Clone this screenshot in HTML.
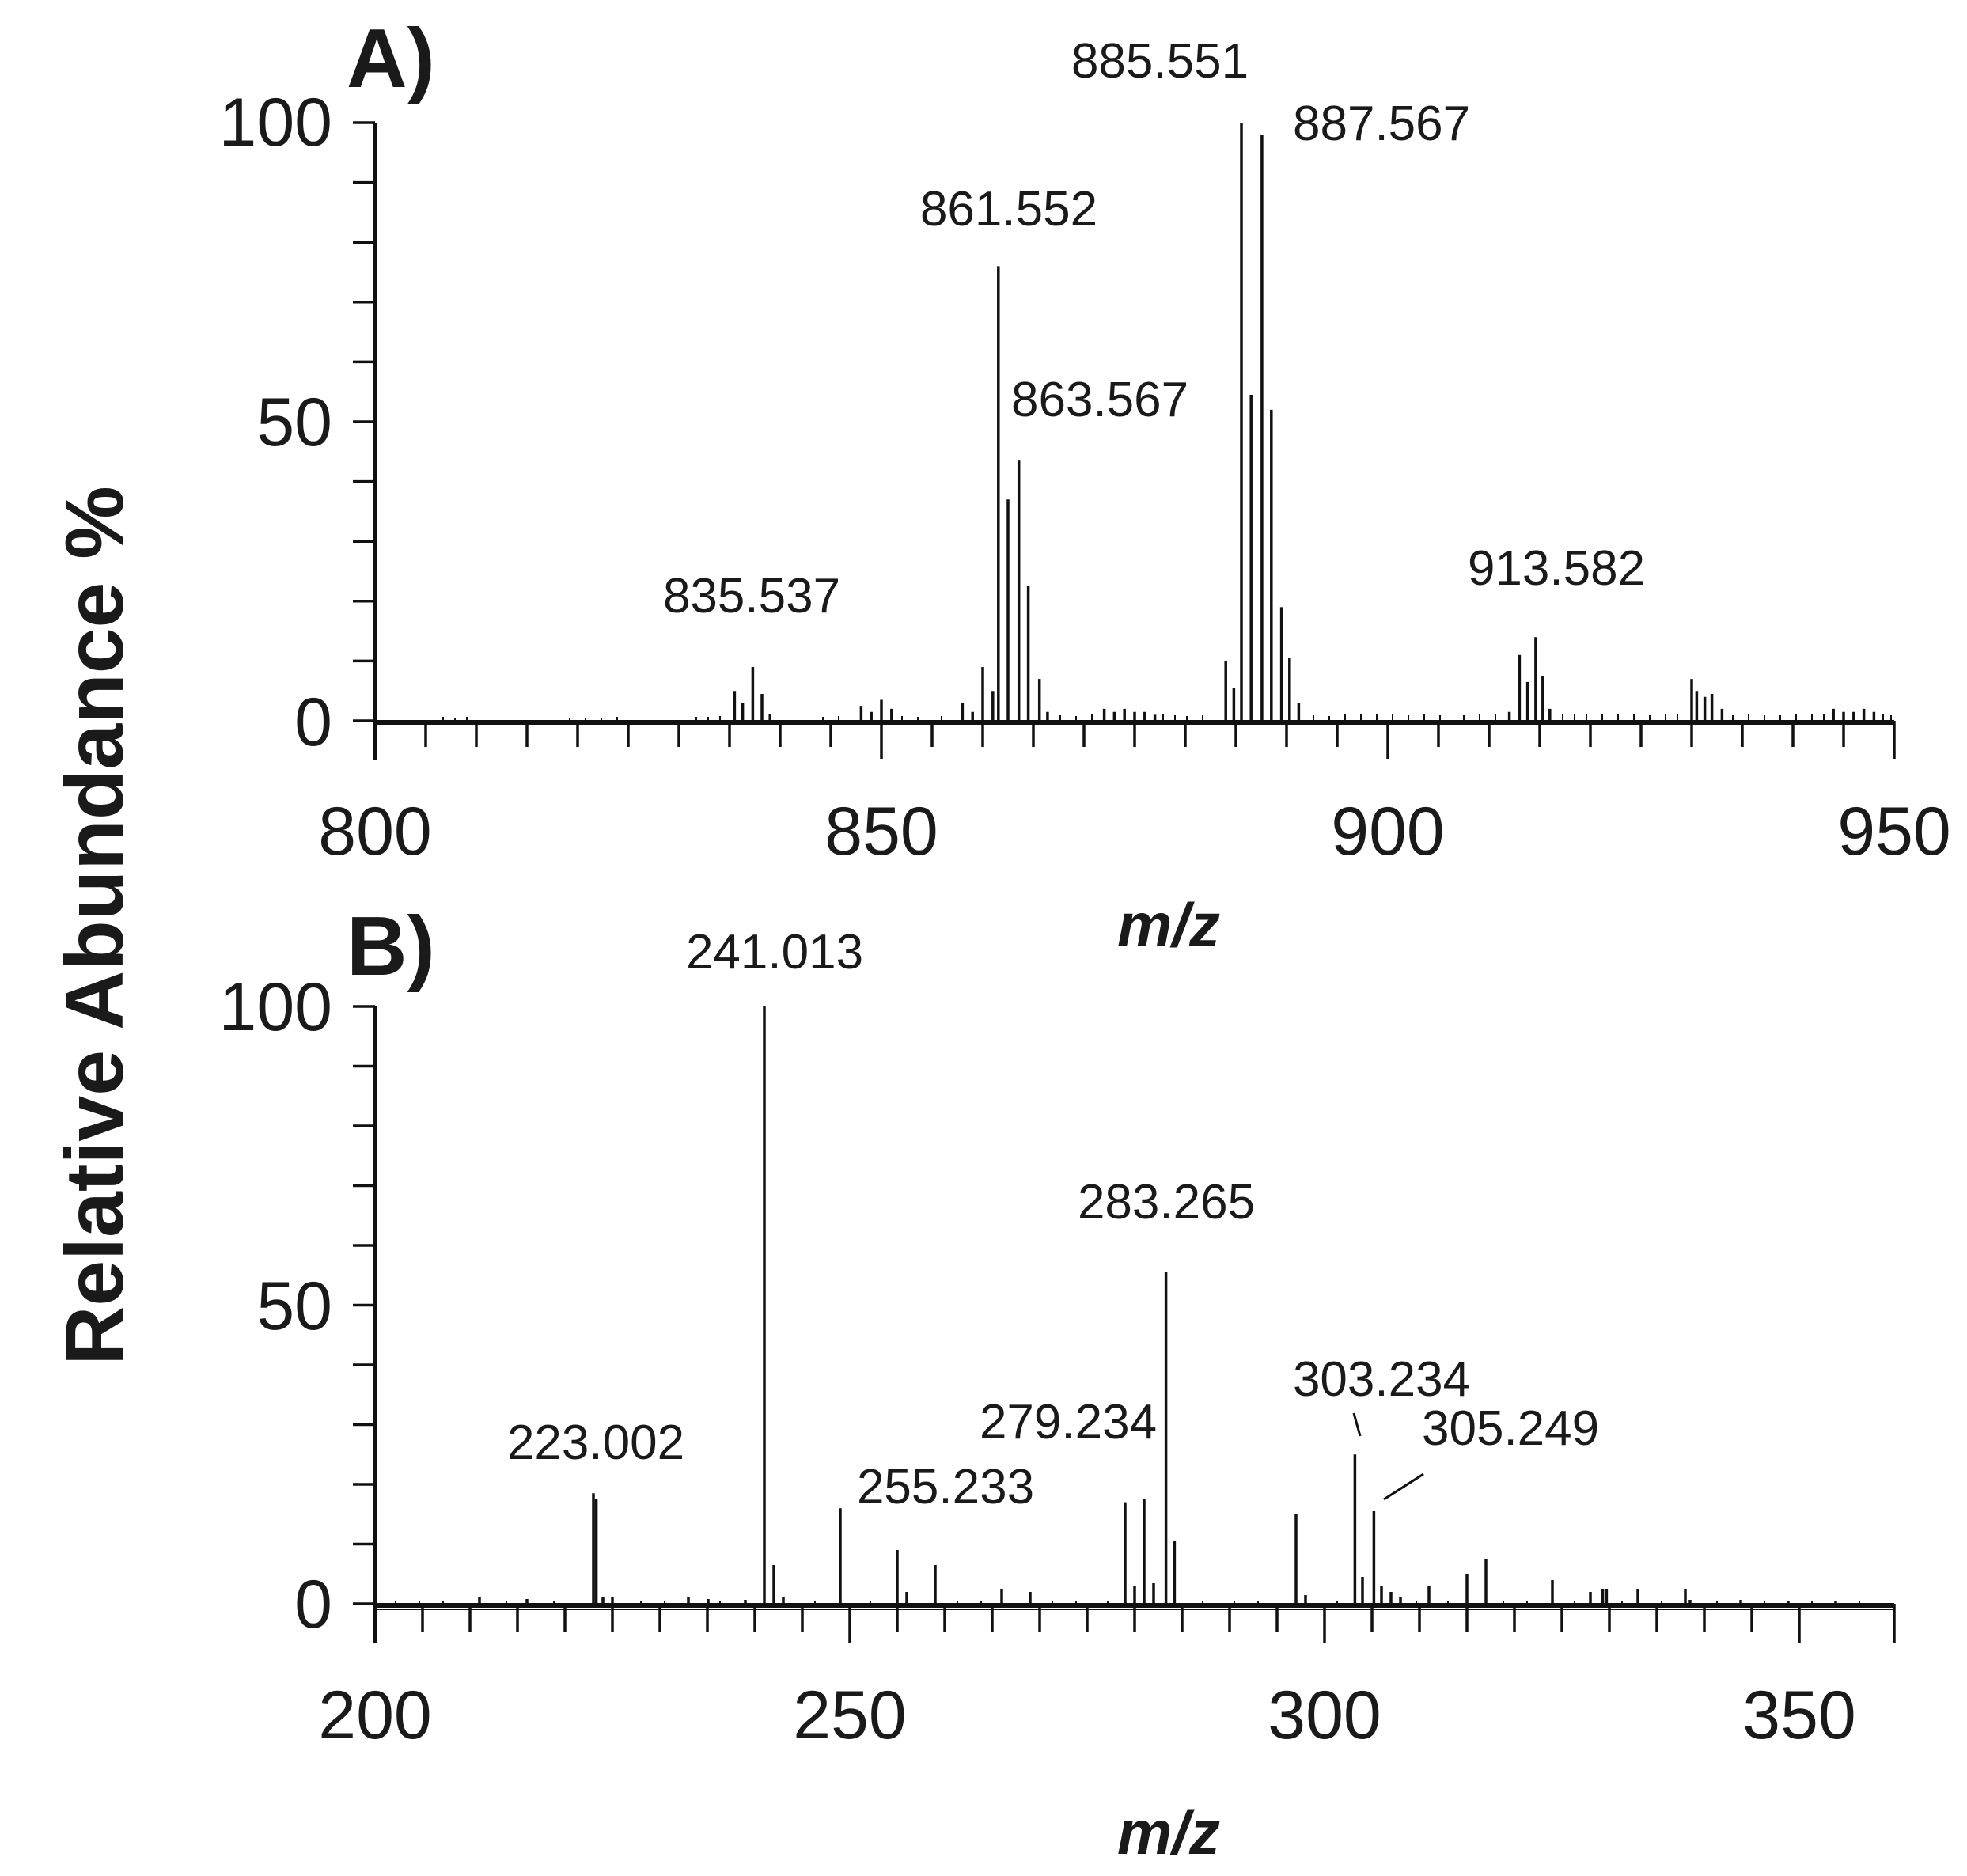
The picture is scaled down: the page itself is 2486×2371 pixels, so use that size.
<!DOCTYPE html>
<html><head><meta charset="utf-8"><style>
html,body{margin:0;padding:0;background:#fff}
svg{display:block}
text{font-family:"Liberation Sans",Arial,sans-serif;fill:#1a1a1a}
</style></head><body>
<svg width="2486" height="2371" viewBox="0 0 2486 2371" xmlns="http://www.w3.org/2000/svg">
<text x="120" y="1170" font-size="104" font-weight="bold" text-anchor="middle" dominant-baseline="central" transform="rotate(-90 120 1170)">Relative Abundance %</text>
<text x="438" y="110" font-size="106" font-weight="bold">A)</text>
<text x="438" y="1232" font-size="106" font-weight="bold">B)</text>
<g font-size="86" text-anchor="end">
<text x="420" y="184">100</text><text x="420" y="563">50</text><text x="420" y="942">0</text>
<text x="420" y="1302">100</text><text x="420" y="1680">50</text><text x="420" y="2057">0</text>
</g>
<g font-size="86" text-anchor="middle">
<text x="474" y="1080">800</text><text x="1114" y="1080">850</text><text x="1754" y="1080">900</text><text x="2394" y="1080">950</text>
<text x="474" y="2197">200</text><text x="1074" y="2197">250</text><text x="1674" y="2197">300</text><text x="2274" y="2197">350</text>
<text x="1477" y="1196" font-weight="bold" font-style="italic" font-size="78">m/z</text>
<text x="1477" y="2343" font-weight="bold" font-style="italic" font-size="78">m/z</text>
</g>
<g font-size="62" text-anchor="middle">
<text x="1466" y="98">885.551</text>
<text x="1634" y="177" text-anchor="start">887.567</text>
<text x="1275" y="285">861.552</text>
<text x="1278" y="526" text-anchor="start">863.567</text>
<text x="950" y="774">835.537</text>
<text x="1967" y="739">913.582</text>
<text x="979" y="1224">241.013</text>
<text x="1474" y="1540">283.265</text>
<text x="753" y="1844">223.002</text>
<text x="1195" y="1900">255.233</text>
<text x="1350" y="1818">279.234</text>
<text x="1746" y="1764">303.234</text>
<text x="1797" y="1826" text-anchor="start">305.249</text>
</g>
<g stroke="#111" fill="none">
<line x1="1711" y1="1786" x2="1719" y2="1815" stroke-width="3"/>
<line x1="1749" y1="1895" x2="1799" y2="1863" stroke-width="3"/>

<path stroke-width="4" d="M474 155V961"/>
<path stroke-width="3.5" d="M446 155H474M446 230.6H474M446 306.2H474M446 381.8H474M446 457.4H474M446 533H474M446 608.6H474M446 684.2H474M446 759.8H474M446 835.4H474M446 911H474"/>
<path stroke-width="3.5" d="M474 911v48M538 911v33M602 911v33M666 911v33M730 911v33M794 911v33M858 911v33M922 911v33M986 911v33M1050 911v33M1114 911v48M1178 911v33M1242 911v33M1306 911v33M1370 911v33M1434 911v33M1498 911v33M1562 911v33M1626 911v33M1690 911v33M1754 911v48M1818 911v33M1882 911v33M1946 911v33M2010 911v33M2074 911v33M2138 911v33M2202 911v33M2266 911v33M2330 911v33M2394 911v48"/>
<path stroke-width="6" d="M474 913H2394"/>
<path stroke-width="3.5" d="M928.4 911V873.2M938.6 911V888.3M951.4 911V843M963 911V877M973.2 911V902M1088.4 911V892.1M1101.2 911V899.7M1114 911V884.5M1126.8 911V895.9M1216.4 911V888.3M1229.2 911V899.7M1242 911V843M1254.8 911V873.2M1261.8 911V336.4M1274 911V631.3M1287.7 911V582.1M1299.6 911V740.9M1313.7 911V858.1M1323.9 911V899.7M1395.6 911V895.9M1408.4 911V899.7M1421.2 911V895.9M1434 911V899.7M1446.8 911V899.7M1459.6 911V903.4M1549.2 911V835.4M1559.4 911V869.4M1569 911V155M1581.2 911V499M1594.9 911V170.1M1606.8 911V517.9M1619.6 911V767.4M1629.8 911V831.6M1641.4 911V888.3M1907.6 911V899.7M1920.4 911V827.8M1930.6 911V861.9M1940.9 911V805.2M1949.8 911V854.3M1958.8 911V895.9M2138 911V858.1M2144.4 911V873.2M2154.6 911V880.8M2163.6 911V877M2176.4 911V895.9M2317.2 911V895.9M2330 911V899.7M2342.8 911V899.7M2355.6 911V895.9M2368.4 911V899.7"/>
<path stroke-width="2" d="M560 911v-5M575 911v-4M590 911v-5M720 911v-4M740 911v-4M760 911v-4M780 911v-5M880 911v-5M895 911v-5M910 911v-6M1040 911v-5M1060 911v-6M1140 911v-6M1160 911v-5M1190 911v-6M1340 911v-7M1360 911v-6M1380 911v-8M1470 911v-8M1485 911v-7M1500 911v-6M1520 911v-7M1660 911v-7M1680 911v-6M1700 911v-8M1720 911v-9M1740 911v-8M1760 911v-9M1780 911v-7M1800 911v-8M1820 911v-7M1850 911v-7M1870 911v-8M1890 911v-9M1975 911v-8M1990 911v-9M2005 911v-8M2025 911v-9M2045 911v-8M2065 911v-8M2085 911v-7M2105 911v-8M2120 911v-9M2190 911v-7M2210 911v-8M2230 911v-7M2250 911v-7M2270 911v-8M2290 911v-8M2305 911v-9M2380 911v-9M2390 911v-7"/>

<path stroke-width="4" d="M474 1272V2077"/>
<path stroke-width="3.5" d="M446 1272H474M446 1347.5H474M446 1423H474M446 1498.5H474M446 1574H474M446 1649.5H474M446 1725H474M446 1800.5H474M446 1876H474M446 1951.5H474M446 2027H474"/>
<path stroke-width="3.5" d="M474 2027v50M534 2027v36M594 2027v36M654 2027v36M714 2027v36M774 2027v36M834 2027v36M894 2027v36M954 2027v36M1014 2027v36M1074 2027v50M1134 2027v36M1194 2027v36M1254 2027v36M1314 2027v36M1374 2027v36M1434 2027v36M1494 2027v36M1554 2027v36M1614 2027v36M1674 2027v50M1734 2027v36M1794 2027v36M1854 2027v36M1914 2027v36M1974 2027v36M2034 2027v36M2094 2027v36M2154 2027v36M2214 2027v36M2274 2027v50M2394 2027v50"/>
<path stroke-width="6" d="M474 2029H2394"/>
<path stroke-width="2" d="M474 2034H2394"/>
<path stroke-width="3.5" d="M606 2027V2019M666 2027V2021M750 2027V1887.3M753.6 2027V1895M762 2027V2019M774 2027V2019M870 2027V2019M895 2027V2021M942 2027V2022M966 2027V1272M978 2027V1978M990 2027V2019M1062 2027V1906.2M1134 2027V1959M1146 2027V2012M1182 2027V1978M1266 2027V2008M1302 2027V2012M1422 2027V1898.6M1434 2027V2004M1446 2027V1895M1458 2027V2001M1473.6 2027V1608M1484.4 2027V1947.7M1638 2027V1914M1650 2027V2016M1712.4 2027V1838.2M1722 2027V1993M1736.4 2027V1910M1746 2027V2004M1758 2027V2012M1770 2027V2019M1806 2027V2004M1854 2027V1989M1878 2027V1970M1962 2027V1997M2010 2027V2012M2025.6 2027V2008M2030.4 2027V2008M2070 2027V2008M2130 2027V2008M2136 2027V2022M2200 2027V2022M2260 2027V2023M2320 2027V2023"/>
<path stroke-width="2" d="M500 2027v-4M530 2027v-4M560 2027v-3M640 2027v-4M700 2027v-4M810 2027v-4M840 2027v-3M910 2027v-4M1030 2027v-4M1100 2027v-4M1210 2027v-4M1240 2027v-3M1330 2027v-4M1360 2027v-4M1400 2027v-4M1520 2027v-4M1560 2027v-4M1590 2027v-3M1690 2027v-4M1790 2027v-4M1830 2027v-4M1900 2027v-4M1930 2027v-4M1990 2027v-4M2050 2027v-4M2100 2027v-4M2170 2027v-4M2230 2027v-4M2290 2027v-4M2350 2027v-4"/>
</g>
</svg>
</body></html>
